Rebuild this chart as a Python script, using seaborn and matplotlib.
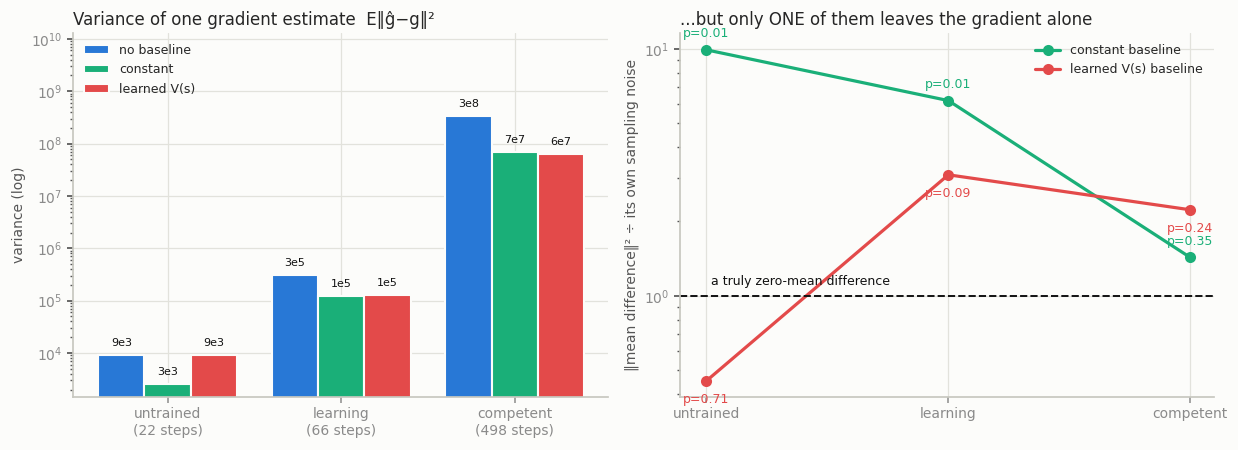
import numpy as np
import pandas as pd
import matplotlib
matplotlib.use("Agg")
import matplotlib.pyplot as plt
import seaborn as sns

# ── data ──────────────────────────────────────────────────────────────────────
STAGES = ["untrained", "learning", "competent"]
STEPS = [22, 66, 498]
BASELINES = ["no baseline", "constant", "learned V(s)"]

VAR_NONE = [9.2e3, 3.1e5, 3.3e8]
VAR_CONST = [2.6e3, 1.24e5, 7.0e7]
VAR_LEARNED = [9.2e3, 1.28e5, 6.3e7]

RATIO_CONST = [9.9, 6.17, 1.43]
RATIO_LEARNED = [0.453, 3.09, 2.23]
P_CONST = [0.01, 0.01, 0.35]
P_LEARNED = [0.71, 0.09, 0.24]

# ── style ─────────────────────────────────────────────────────────────────────
BG = "#fcfcfa"
BLUE, GREEN, RED = "#2878d6", "#1aaf78", "#e34a4a"
GRID = "#e2e2dc"
TICK = "#8a8a8a"

sns.set_theme(style="whitegrid")
plt.rcParams.update({
    "font.family": ["DejaVu Sans"],
    "figure.facecolor": BG,
    "axes.facecolor": BG,
    "axes.edgecolor": "#c8c8c0",
    "grid.color": GRID,
    "grid.linewidth": 0.9,
    "xtick.color": TICK,
    "ytick.color": TICK,
    "xtick.labelcolor": TICK,
    "ytick.labelcolor": TICK,
    "axes.labelcolor": "#555555",
})


def short_sci(v):
    m, e = f"{v:.0e}".split("e")
    return f"{m}e{int(e)}"


fig, (ax1, ax2) = plt.subplots(1, 2, figsize=(12.38, 4.5), dpi=100)
fig.subplots_adjust(left=0.059, right=0.981, top=0.927, bottom=0.118, wspace=0.135)

# ── left: variance bars ───────────────────────────────────────────────────────
df = pd.DataFrame({
    "stage": np.repeat([f"{s}\n({n} steps)" for s, n in zip(STAGES, STEPS)], 3),
    "baseline": BASELINES * 3,
    "variance": [v for trio in zip(VAR_NONE, VAR_CONST, VAR_LEARNED) for v in trio],
})
sns.barplot(data=df, x="stage", y="variance", hue="baseline", ax=ax1,
            palette=[BLUE, GREEN, RED], edgecolor=BG, linewidth=1.5,
            saturation=1, errorbar=None, width=0.8)
ax1.set_yscale("log")
ax1.set_ylim(1.45e3, 1.3e10)
ax1.set_xlim(-0.545, 2.535)
for cont in ax1.containers:
    ax1.bar_label(cont, labels=[short_sci(b.get_height()) for b in cont],
                  padding=5, fontsize=8, color="#111111")
ax1.set_xlabel("")
ax1.xaxis.label.set_visible(False)
ax1.set_ylabel("variance (log)", fontsize=10)
ax1.set_title("Variance of one gradient estimate  E‖ĝ−g‖²", loc="left", fontsize=12)
ax1.legend(loc="upper left", frameon=False, fontsize=9)
ax1.tick_params(axis="x", labelsize=10, length=4, color="#999999", bottom=True)
ax1.tick_params(axis="y", which="both", labelsize=10, left=True, color="#555555")
ax1.tick_params(axis="y", which="major", length=4)
ax1.tick_params(axis="y", which="minor", length=2)
ax1.grid(True, axis="both")
ax1.set_axisbelow(True)

# ── right: bias ratio lines ───────────────────────────────────────────────────
xs = np.arange(len(STAGES))
sns.lineplot(x=xs, y=RATIO_CONST, ax=ax2, color=GREEN, marker="o", markersize=8,
             markeredgewidth=0, linewidth=2.3, label="constant baseline")
sns.lineplot(x=xs, y=RATIO_LEARNED, ax=ax2, color=RED, marker="o", markersize=8,
             markeredgewidth=0, linewidth=2.3, label="learned V(s) baseline")
for x, y, p in zip(xs, RATIO_CONST, P_CONST):
    ax2.annotate(f"p={p:.2f}", (x, y), xytext=(0, 7), textcoords="offset points",
                 ha="center", va="bottom", fontsize=9, color=GREEN)
for x, y, p in zip(xs, RATIO_LEARNED, P_LEARNED):
    ax2.annotate(f"p={p:.2f}", (x, y), xytext=(0, -9), textcoords="offset points",
                 ha="center", va="top", fontsize=9, color=RED)
ax2.axhline(1.0, color="#111111", linestyle="--", linewidth=1.4)
ax2.text(0.02, 1.11, "a truly zero-mean difference", fontsize=9, color="#111111")
ax2.set_yscale("log")
ax2.set_ylim(0.39, 11.6)
ax2.set_xlim(-0.11, 2.1)
ax2.set_xticks(xs)
ax2.set_xticklabels(STAGES)
ax2.set_ylabel("‖mean difference‖² ÷ its own sampling noise", fontsize=10)
ax2.set_title("...but only ONE of them leaves the gradient alone", loc="left", fontsize=12)
ax2.legend(loc="upper right", frameon=False, fontsize=9)
ax2.tick_params(axis="x", labelsize=10, length=4, color="#999999", bottom=True)
ax2.tick_params(axis="y", which="both", labelsize=10, left=True, color="#555555")
ax2.tick_params(axis="y", which="major", length=4)
ax2.tick_params(axis="y", which="minor", length=2)
ax2.grid(True, axis="both")
ax2.grid(False, which="minor")
ax2.set_axisbelow(True)

for ax in (ax1, ax2):
    sns.despine(ax=ax)
    for s in ("left", "bottom"):
        ax.spines[s].set_color("#c8c8c0")

fig.savefig("out.png", dpi=100, facecolor=BG)
